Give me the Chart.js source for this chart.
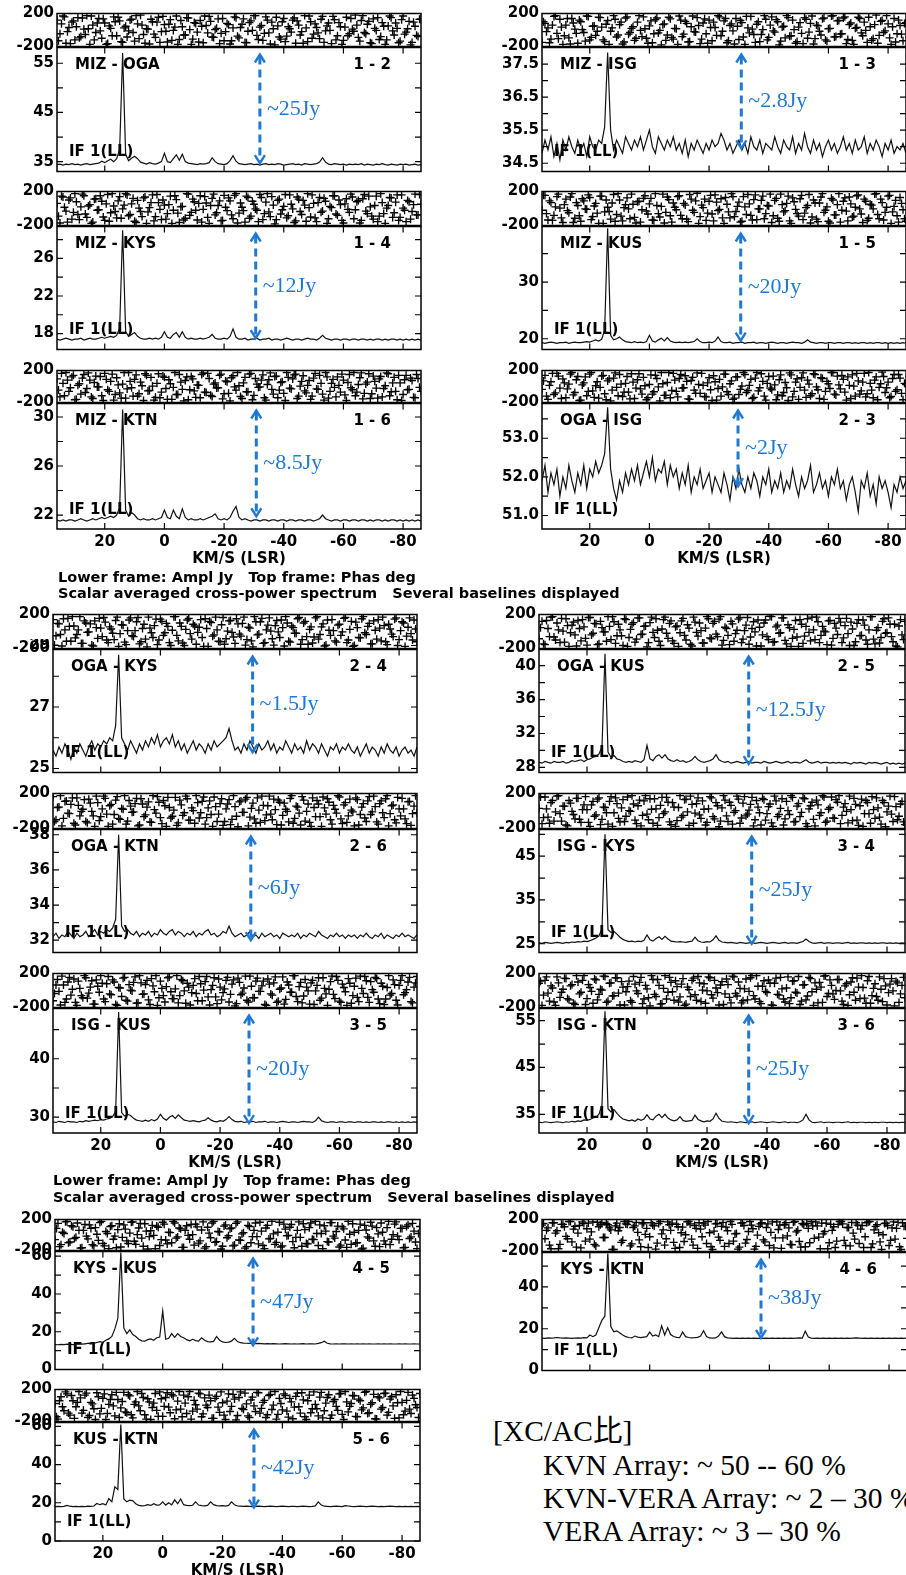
<!DOCTYPE html>
<html>
<head>
<meta charset="utf-8">
<script src="https://cdn.jsdelivr.net/npm/chart.js@4.4.1/dist/chart.umd.min.js"></script>
<style>
body{margin:0;background:#fff;width:906px;height:1575px;position:relative;overflow:hidden}
canvas{position:absolute}
.cap{position:absolute;font:bold 14.5px "DejaVu Sans";white-space:pre;color:#000;line-height:17px}
.note{position:absolute;font:29.5px "Liberation Serif","Noto Sans CJK JP";white-space:pre;color:#000;line-height:33px}
</style>
</head>
<body>
<script>
// channel velocities (km/s, LSR)
const velocity = [36,35,34,33,32,31,30,29,28,27,26,25,24,23,22,21,20,19,18,17,
16,15,14,13,12,11,10,9,8,7,6,5,4,3,2,1,0,-1,-2,-3,
-4,-5,-6,-7,-8,-9,-10,-11,-12,-13,-14,-15,-16,-17,-18,-19,-20,-21,-22,-23,
-24,-25,-26,-27,-28,-29,-30,-31,-32,-33,-34,-35,-36,-37,-38,-39,-40,-41,-42,-43,
-44,-45,-46,-47,-48,-49,-50,-51,-52,-53,-54,-55,-56,-57,-58,-59,-60,-61,-62,-63,
-64,-65,-66,-67,-68,-69,-70,-71,-72,-73,-74,-75,-76,-77,-78,-79,-80,-81,-82,-83,
-84,-85,-86];
// in-between channels used for the phase frames
const velocityHalf = [35.5,34.5,33.5,32.5,31.5,30.5,29.5,28.5,27.5,26.5,25.5,24.5,23.5,22.5,21.5,20.5,19.5,18.5,17.5,16.5,
15.5,14.5,13.5,12.5,11.5,10.5,9.5,8.5,7.5,6.5,5.5,4.5,3.5,2.5,1.5,0.5,-0.5,-1.5,-2.5,-3.5,
-4.5,-5.5,-6.5,-7.5,-8.5,-9.5,-10.5,-11.5,-12.5,-13.5,-14.5,-15.5,-16.5,-17.5,-18.5,-19.5,-20.5,-21.5,-22.5,-23.5,
-24.5,-25.5,-26.5,-27.5,-28.5,-29.5,-30.5,-31.5,-32.5,-33.5,-34.5,-35.5,-36.5,-37.5,-38.5,-39.5,-40.5,-41.5,-42.5,-43.5,
-44.5,-45.5,-46.5,-47.5,-48.5,-49.5,-50.5,-51.5,-52.5,-53.5,-54.5,-55.5,-56.5,-57.5,-58.5,-59.5,-60.5,-61.5,-62.5,-63.5,
-64.5,-65.5,-66.5,-67.5,-68.5,-69.5,-70.5,-71.5,-72.5,-73.5,-74.5,-75.5,-76.5,-77.5,-78.5,-79.5,-80.5,-81.5,-82.5,-83.5,
-84.5,-85.5];
const xTicks = [20, 0, -20, -40, -60, -80];
const xTitle = 'KM/S (LSR)';
const ifLabel = 'IF 1(LL)';

const baselineNames = ['MIZ - OGA','MIZ - ISG','MIZ - KYS','MIZ - KUS','MIZ - KTN','OGA - ISG',
  'OGA - KYS','OGA - KUS','OGA - KTN','ISG - KYS','ISG - KUS','ISG - KTN','KYS - KUS','KYS - KTN','KUS - KTN'];
const pairLabels = ['1 - 2','1 - 3','1 - 4','1 - 5','1 - 6','2 - 3','2 - 4','2 - 5','2 - 6','3 - 4','3 - 5','3 - 6','4 - 5','4 - 6','5 - 6'];

// amplitude (Jy)
const ampMizOga = [34.4,34.5,34.3,34.5,34.4,34.6,34.4,34.5,34.3,34.5,34.6,34.4,34.5,34.6,34.7,35.1,34.8,35.2,35.5,35.0,
35.6,37.5,57.1,36.5,35.2,35.7,36.1,35.6,34.9,34.7,34.5,34.8,34.6,34.5,34.7,35.0,36.7,35.0,34.8,35.6,
36.4,35.3,36.5,35.0,34.7,34.6,34.5,34.4,34.6,34.5,34.6,34.8,35.8,35.0,34.6,34.5,34.4,34.6,35.2,36.2,
35.1,34.6,34.5,34.4,34.5,34.6,34.4,34.5,34.3,34.5,34.6,34.4,34.5,34.4,34.6,34.5,34.3,34.4,34.5,34.6,
34.4,34.5,34.3,34.6,34.5,34.4,34.5,34.6,34.9,35.8,34.9,34.5,34.4,34.6,34.5,34.4,34.5,34.3,34.5,34.4,
34.5,34.4,34.6,34.3,34.5,34.4,34.3,34.5,34.4,34.6,34.4,34.3,34.5,34.4,34.3,34.5,34.4,34.5,34.3,34.4,
34.5,34.3,34.4];
const ampMizIsg = [34.8,35.2,34.9,35.3,34.7,35.1,34.6,35.2,34.9,35.3,35.0,34.8,35.2,34.9,35.1,34.7,35.3,35.0,34.9,35.2,
35.1,35.6,37.85,35.5,34.9,35.2,35.0,34.8,35.3,35.1,34.9,35.2,35.0,35.3,34.9,35.2,35.5,35.0,34.8,35.3,
35.1,34.9,35.2,35.0,35.3,34.9,35.1,34.8,35.2,34.7,35.1,34.9,35.2,35.0,34.8,35.1,34.9,35.2,35.0,35.1,
35.4,35.2,34.9,35.1,34.8,35.0,35.2,34.9,35.1,34.8,35.3,35.0,34.9,35.2,34.8,35.1,35.0,34.9,35.3,35.0,
34.8,35.2,35.0,34.9,35.3,34.8,35.1,34.9,35.4,35.0,34.8,35.2,34.9,35.1,34.7,35.0,35.2,34.9,35.1,34.8,
35.0,35.3,34.9,35.1,34.8,35.2,34.9,35.0,35.3,34.8,35.1,34.9,35.2,35.0,34.7,35.1,34.9,35.2,34.8,35.0,
34.9,35.1,34.8];
const ampMizKys = [17.4,17.3,17.4,17.5,17.4,17.3,17.4,17.4,17.5,17.3,17.4,17.5,17.4,17.4,17.5,17.6,17.5,17.6,17.7,17.6,
17.8,18.6,29.0,18.2,17.7,17.9,18.1,17.7,17.5,17.4,17.4,17.5,17.4,17.5,17.4,17.6,18.2,17.6,17.5,17.9,
18.1,17.6,18.2,17.6,17.4,17.5,17.4,17.4,17.5,17.4,17.5,17.6,17.9,17.5,17.4,17.4,17.5,17.4,17.7,18.5,
17.6,17.4,17.4,17.5,17.3,17.4,17.4,17.5,17.3,17.4,17.4,17.5,17.3,17.4,17.4,17.3,17.4,17.5,17.4,17.3,
17.4,17.4,17.3,17.4,17.5,17.4,17.4,17.3,17.5,17.8,17.5,17.4,17.3,17.4,17.4,17.3,17.4,17.4,17.3,17.4,
17.4,17.3,17.4,17.4,17.3,17.4,17.3,17.4,17.4,17.3,17.4,17.3,17.4,17.4,17.3,17.4,17.3,17.4,17.3,17.4,
17.3,17.4,17.3];
const ampMizKus = [19.3,19.2,19.3,19.4,19.3,19.2,19.3,19.3,19.4,19.2,19.3,19.4,19.3,19.3,19.4,19.5,19.4,19.6,19.8,19.6,
19.9,21.5,39.5,20.6,19.8,20.0,20.3,19.8,19.5,19.4,19.3,19.5,19.3,19.4,19.3,19.5,20.6,19.6,19.4,19.8,
20.1,19.6,20.2,19.6,19.4,19.3,19.4,19.3,19.4,19.3,19.4,19.5,20.0,19.5,19.3,19.3,19.4,19.3,19.6,20.3,
19.5,19.3,19.3,19.4,19.2,19.3,19.3,19.4,19.2,19.3,19.3,19.4,19.2,19.3,19.3,19.2,19.3,19.4,19.3,19.2,
19.3,19.3,19.2,19.3,19.4,19.3,19.3,19.2,19.4,19.8,19.4,19.3,19.2,19.3,19.3,19.2,19.3,19.3,19.2,19.3,
19.3,19.2,19.3,19.3,19.2,19.3,19.2,19.3,19.3,19.2,19.3,19.2,19.3,19.3,19.2,19.3,19.2,19.3,19.2,19.3,
19.2,19.3,19.2];
const ampMizKtn = [21.6,21.5,21.6,21.5,21.6,21.6,21.5,21.6,21.7,21.6,21.5,21.6,21.7,21.6,21.7,21.8,21.7,21.8,21.9,21.8,
22.0,22.6,30.6,22.4,21.9,22.2,22.0,21.7,21.6,21.7,21.6,21.6,21.7,21.6,21.7,21.8,22.4,21.8,21.7,22.4,
21.9,21.7,22.5,21.8,21.6,21.7,21.6,21.6,21.7,21.6,21.7,21.8,21.9,22.1,21.7,21.6,21.7,21.6,21.8,22.3,
22.7,21.8,21.6,21.7,21.6,21.5,21.6,21.6,21.5,21.6,21.6,21.5,21.6,21.6,21.5,21.6,21.6,21.5,21.6,21.6,
21.5,21.6,21.6,21.5,21.6,21.6,21.5,21.6,21.7,22.0,21.7,21.6,21.5,21.6,21.6,21.5,21.6,21.6,21.5,21.6,
21.6,21.5,21.6,21.6,21.5,21.6,21.5,21.6,21.6,21.5,21.6,21.5,21.6,21.6,21.5,21.6,21.5,21.6,21.5,21.6,
21.5,21.6,21.5];
const ampOgaIsg = [51.9,52.3,51.6,52.1,51.8,52.2,51.5,52.0,51.7,52.3,51.9,51.6,52.1,51.8,52.3,51.7,52.2,52.0,52.4,52.1,
52.3,52.6,53.8,52.2,51.7,51.4,51.9,51.6,52.1,51.8,52.2,51.9,52.3,51.8,52.1,52.4,52.0,52.5,51.9,52.2,
52.1,52.4,51.8,52.3,52.0,52.2,51.7,52.1,51.8,52.3,51.6,52.0,51.8,52.2,51.7,51.9,52.1,51.6,52.0,51.8,
51.6,52.1,51.8,51.4,52.0,51.7,52.2,51.8,51.6,52.0,51.7,52.1,51.9,51.5,52.0,51.8,52.2,51.6,51.9,51.7,
52.1,51.6,51.9,51.7,52.2,51.8,51.5,52.0,51.7,51.9,52.3,51.6,51.8,52.1,51.7,51.9,51.5,52.0,51.8,52.2,
51.7,51.9,51.4,51.8,52.0,51.6,51.1,51.9,51.7,52.1,51.5,51.8,51.3,52.0,51.7,51.9,51.6,51.2,51.8,51.6,
52.0,51.7,51.9];
const ampOgaKys = [25.6,25.4,25.7,25.5,25.8,25.6,25.3,25.7,25.5,25.8,25.6,25.4,25.7,25.9,25.6,25.8,25.7,25.9,25.8,26.0,
25.9,26.4,28.7,26.0,25.8,25.6,25.9,25.7,25.5,25.8,25.6,25.9,25.7,26.0,25.8,26.1,25.7,25.9,26.0,25.8,
26.1,25.7,25.9,25.6,25.8,25.5,25.7,25.9,25.6,25.8,25.7,25.5,25.8,25.6,25.9,25.7,25.8,25.9,26.0,26.3,
25.9,25.6,25.7,25.5,25.8,25.6,25.9,25.7,25.5,25.8,25.6,25.7,25.9,25.6,25.8,25.5,25.7,25.6,25.9,25.7,
25.5,25.8,25.6,25.7,25.5,25.9,25.6,25.8,25.7,25.5,25.8,25.6,25.4,25.7,25.6,25.8,25.5,25.7,25.6,25.8,
25.6,25.5,25.7,25.4,25.6,25.8,25.5,25.7,25.6,25.4,25.7,25.5,25.8,25.6,25.5,25.7,25.4,25.6,25.7,25.5,
25.6,25.4,25.7];
const ampOgaKus = [28.6,28.5,28.7,28.6,28.5,28.7,28.6,28.6,28.7,28.5,28.6,28.8,28.7,28.8,28.9,28.7,28.9,29.0,29.2,29.3,
29.6,30.4,41.4,29.8,29.2,29.4,29.0,28.9,28.7,28.6,28.7,28.6,28.8,28.7,28.6,28.9,30.6,29.0,28.8,29.3,
29.5,29.1,29.5,29.0,28.8,28.7,28.9,28.7,28.8,28.6,28.7,28.9,29.3,28.9,28.7,28.6,28.7,28.8,29.0,29.5,
28.9,28.7,28.6,28.7,28.5,28.6,28.7,28.6,28.5,28.6,28.7,28.5,28.6,28.6,28.5,28.7,28.6,28.5,28.6,28.7,
28.6,28.5,28.6,28.7,28.5,28.6,28.6,28.5,28.7,28.9,28.6,28.5,28.6,28.7,28.5,28.6,28.6,28.5,28.6,28.5,
28.6,28.5,28.6,28.5,28.4,28.6,28.5,28.6,28.5,28.4,28.6,28.5,28.6,28.5,28.4,28.5,28.6,28.4,28.5,28.4,
28.5,28.4,28.5];
const ampOgaKtn = [32.2,32.4,32.1,32.3,32.2,32.5,32.3,32.1,32.4,32.2,32.3,32.5,32.2,32.4,32.6,32.3,32.5,32.4,32.6,32.5,
32.7,33.2,38.0,32.8,32.5,32.6,32.4,32.3,32.5,32.2,32.4,32.3,32.5,32.2,32.4,32.3,32.6,32.4,32.3,32.5,
32.6,32.3,32.5,32.4,32.2,32.4,32.3,32.5,32.2,32.4,32.3,32.5,32.6,32.3,32.4,32.2,32.3,32.5,32.4,32.8,
32.4,32.2,32.3,32.4,32.2,32.3,32.5,32.2,32.3,32.1,32.4,32.2,32.3,32.4,32.2,32.3,32.1,32.4,32.3,32.2,
32.3,32.2,32.4,32.1,32.3,32.2,32.4,32.3,32.2,32.5,32.3,32.2,32.1,32.3,32.2,32.4,32.2,32.3,32.1,32.3,
32.2,32.3,32.1,32.3,32.2,32.4,32.2,32.1,32.3,32.2,32.4,32.1,32.3,32.2,32.1,32.3,32.2,32.4,32.2,32.3,
32.2,32.1,32.3];
const ampIsgKys = [25.2,25.1,25.3,25.2,25.1,25.2,25.3,25.2,25.1,25.3,25.2,25.4,25.3,25.5,25.4,25.6,25.5,25.7,26.0,26.3,
26.8,28.5,50.0,28.2,27.6,27.8,27.2,26.5,26.0,25.7,25.5,25.6,25.4,25.6,25.5,25.8,27.0,25.9,25.6,26.2,
26.6,26.0,26.7,26.1,25.6,25.5,25.4,25.5,25.4,25.3,25.5,25.6,26.5,25.7,25.4,25.3,25.5,25.4,25.9,26.8,
25.8,25.4,25.3,25.2,25.3,25.2,25.1,25.3,25.2,25.1,25.2,25.3,25.1,25.2,25.3,25.2,25.1,25.2,25.3,25.2,
25.1,25.2,25.3,25.1,25.2,25.2,25.1,25.3,25.5,26.1,25.5,25.2,25.1,25.2,25.3,25.1,25.2,25.2,25.1,25.2,
25.2,25.1,25.2,25.3,25.1,25.2,25.1,25.2,25.2,25.1,25.2,25.1,25.2,25.1,25.2,25.2,25.1,25.2,25.1,25.2,
25.1,25.2,25.1];
const ampIsgKus = [29.2,29.1,29.3,29.2,29.1,29.3,29.2,29.2,29.1,29.3,29.2,29.4,29.3,29.4,29.5,29.4,29.6,29.5,29.7,29.8,
30.1,31.0,48.0,30.8,30.2,30.5,30.3,29.8,29.5,29.4,29.3,29.5,29.3,29.6,29.4,29.7,30.5,29.8,29.5,30.0,
30.3,29.8,30.4,29.9,29.5,29.4,29.3,29.4,29.3,29.2,29.4,29.5,29.9,29.5,29.3,29.2,29.4,29.3,29.6,30.1,
29.6,29.3,29.2,29.3,29.1,29.2,29.2,29.3,29.1,29.2,29.2,29.3,29.1,29.2,29.2,29.1,29.2,29.3,29.2,29.1,
29.2,29.2,29.1,29.2,29.3,29.2,29.2,29.1,29.4,30.0,29.4,29.2,29.1,29.2,29.2,29.1,29.2,29.2,29.1,29.2,
29.2,29.1,29.2,29.2,29.1,29.2,29.1,29.2,29.2,29.1,29.2,29.1,29.2,29.2,29.1,29.2,29.1,29.2,29.1,29.2,
29.1,29.2,29.1];
const ampIsgKtn = [33.3,33.2,33.4,33.3,33.2,33.3,33.4,33.3,33.2,33.4,33.3,33.5,33.4,33.6,33.5,33.8,33.7,33.9,34.2,34.4,
35.0,37.0,57.0,36.2,35.5,36.0,35.2,34.5,34.0,33.8,33.6,33.8,33.5,34.0,33.7,34.0,34.9,34.0,33.8,34.6,
35.0,34.3,35.0,34.2,33.8,33.6,33.8,34.5,33.7,33.5,33.6,33.7,34.8,33.9,33.6,33.4,33.6,33.5,34.0,35.2,
34.1,33.5,33.4,33.3,33.4,33.3,33.2,33.4,33.3,33.2,33.3,33.4,33.2,33.3,33.4,33.3,33.2,33.3,33.4,33.3,
33.2,33.3,33.4,33.2,33.3,33.3,33.2,33.4,33.8,35.0,33.8,33.3,33.2,33.3,33.4,33.2,33.3,33.3,33.2,33.3,
33.3,33.2,33.3,33.4,33.2,33.3,33.2,33.3,33.3,33.2,33.3,33.2,33.3,33.2,33.3,33.3,33.2,33.3,33.2,33.3,
33.2,33.3,33.2];
const ampKysKus = [13.2,13.1,13.3,13.2,13.4,13.3,13.2,13.4,13.5,13.4,13.6,13.8,14.0,13.8,14.3,14.8,14.4,15.5,16.2,17.5,
21.5,27.0,62.0,22.0,19.0,21.0,18.5,17.5,16.0,15.2,15.0,15.8,16.2,15.5,16.8,17.2,31.0,16.0,16.5,19.0,
17.0,19.0,17.5,16.8,15.8,15.2,16.0,15.3,15.0,16.8,15.5,14.8,14.6,14.9,17.5,15.5,14.6,14.3,14.5,15.0,
16.5,14.8,14.2,14.0,13.9,13.8,13.9,13.7,13.8,13.7,13.6,13.7,13.6,13.7,13.6,13.5,13.6,13.7,13.6,13.5,
13.6,13.5,13.6,13.7,13.5,13.6,13.6,13.5,13.8,14.2,15.0,13.9,13.6,13.5,13.6,13.5,13.6,13.6,13.5,13.6,
13.5,13.6,13.5,13.6,13.5,13.6,13.5,13.5,13.6,13.5,13.6,13.5,13.6,13.5,13.5,13.6,13.5,13.6,13.5,13.5,
13.6,13.5,13.5];
const ampKysKtn = [15.5,15.4,15.6,15.5,15.6,15.8,15.6,15.5,15.6,15.5,15.4,15.5,15.6,15.5,15.7,15.6,17.0,16.2,17.0,20.5,
24.0,26.0,56.0,21.0,18.5,19.0,18.0,17.0,16.2,15.8,15.6,16.5,16.0,15.7,16.0,16.2,18.4,16.5,17.0,16.2,
21.4,17.0,20.5,17.2,16.3,15.9,15.7,18.5,16.2,15.8,15.6,15.7,15.9,16.5,19.0,16.3,15.6,15.5,15.6,16.5,
18.5,16.2,15.6,15.5,15.4,15.5,15.4,15.5,15.4,15.5,15.4,15.5,15.4,15.5,15.4,15.5,15.4,15.5,15.4,15.5,
15.4,15.5,15.4,15.5,15.4,15.5,15.6,15.5,18.8,16.0,15.5,15.4,15.5,15.4,15.5,15.4,15.5,15.4,15.5,15.4,
15.5,15.4,15.5,15.4,15.5,15.6,15.5,15.4,15.5,15.4,15.5,15.4,15.5,15.4,15.5,15.4,15.5,15.4,15.5,15.4,
15.5,15.4,15.5];
const ampKusKtn = [18.0,18.1,18.0,18.1,18.6,18.2,18.0,18.1,18.0,18.1,18.0,18.2,18.1,18.3,19.6,19.0,19.5,18.8,22.2,20.5,
28.3,27.0,61.0,22.0,20.5,21.4,21.0,19.5,18.6,18.4,18.5,19.0,18.6,19.5,18.8,18.9,20.5,18.8,20.0,18.9,
21.5,19.5,22.0,19.0,18.6,18.5,18.7,20.5,18.8,18.5,18.4,18.6,20.5,19.0,18.5,18.4,18.5,18.3,18.6,20.5,
19.0,18.3,18.2,18.1,18.2,18.1,18.0,18.1,18.2,18.1,18.0,18.1,18.2,18.1,18.0,18.1,18.2,18.1,18.0,18.1,
18.1,18.0,18.1,18.2,18.1,18.0,18.1,18.4,20.5,18.8,18.2,18.1,18.0,18.1,18.2,18.1,18.0,18.5,18.3,18.1,
18.0,18.1,18.2,18.1,18.0,18.1,18.2,18.1,18.0,18.1,18.0,18.1,18.2,18.1,18.0,18.1,18.0,18.1,18.0,18.1,
18.0,18.1,18.0];

// phase (deg) on the whole channels
const phMizOga = [120,-45,170,-160,30,95,-120,150,-80,10,175,-175,60,-30,140,-100,85,-165,20,160,
-70,110,-150,45,-10,130,-135,75,180,-55,15,-170,100,-90,155,-20,65,-145,125,-5,
170,-115,40,-60,145,-175,90,-25,115,-155,55,165,-85,5,135,-40,-130,80,-170,25,
150,-95,70,-150,-15,110,175,-65,35,-125,160,-35,95,-180,50,-110,140,-75,15,120,
-160,60,-20,175,-140,100,-50,30,-105,165,-10,85,-165,125,-70,40,-125,155,-45,10,
180,-90,115,-30,70,-155,135,-5,-115,90,-175,50,150,-60,20,-135,170,-25,105,-150,
45,-80,130];
const phMizIsg = [-150,80,25,-110,165,-40,130,-175,60,-95,140,10,-160,100,-30,170,-120,45,-65,155,
35,-140,115,-15,175,-85,65,-170,145,-50,20,-125,95,-5,160,-100,50,-155,125,-35,
-180,75,-60,135,-110,15,170,-80,105,-145,40,-20,150,-165,85,-45,120,-130,30,175,
-70,110,-155,55,-10,140,-115,90,-175,25,165,-55,70,-140,5,130,-90,160,-25,100,
-135,45,175,-75,120,-160,35,-40,150,-100,80,-170,60,-15,135,-120,15,170,-85,110,
-50,145,-165,65,-125,20,155,-35,95,-150,40,-105,180,-65,115,-10,75,-175,140,-45,
55,-130,90];
const phMizKys = [60,-170,135,-30,100,-125,175,-70,20,150,-105,45,-160,115,-15,85,-140,165,-50,30,
-110,140,-5,175,-85,55,-150,95,-35,125,-175,10,160,-95,70,-130,40,-60,145,-20,
105,-165,25,-115,170,-45,80,-135,150,-10,65,-175,120,-75,35,-145,155,-25,90,-120,
175,-55,15,-160,130,-90,50,-20,165,-130,75,-40,140,-180,95,-65,25,-110,160,-5,
-145,110,-70,40,175,-100,60,-155,130,-30,85,-120,10,150,-80,45,-170,115,-45,135,
-15,95,-140,165,-60,20,-125,145,-90,70,-175,35,125,-50,160,-105,5,-155,80,-35,
170,-75,50];
const phMizKus = [-20,155,-135,70,-80,140,5,-165,110,-50,175,-115,35,-150,90,-10,130,-95,60,-175,
145,-40,15,-125,165,-70,100,-145,45,-5,170,-105,80,-160,120,-30,55,-135,175,-60,
25,-170,135,-85,65,-15,150,-120,40,-155,110,-45,180,-95,10,-140,85,-65,160,-25,
115,-175,50,-110,140,-35,75,-150,20,165,-80,105,-130,-5,145,-60,30,-165,95,-115,
170,-40,60,-145,125,-10,-90,155,-55,35,-170,100,-125,65,175,-20,-150,120,-75,45,
-160,85,-30,135,-100,15,160,-65,110,-140,50,-5,175,-120,70,-45,145,-175,25,-85,
130,-15,-150];
const phMizKtn = [95,-130,40,175,-60,120,-165,15,-95,150,-25,80,-150,130,-5,-115,165,-40,65,-170,
110,-80,30,-145,175,-15,90,-120,55,-175,140,-50,5,-135,160,-70,115,-160,35,-10,
-100,150,-35,75,-165,125,-55,20,-140,170,-75,100,-125,45,-15,155,-90,60,-180,135,
-45,10,-150,115,-65,165,-110,30,-5,145,-170,85,-35,125,-140,50,-85,175,-20,95,
155,-120,65,-55,15,-160,105,-30,140,-95,175,-145,40,-10,120,-70,80,-175,150,-40,
-115,25,170,-85,55,-150,130,-20,95,-130,10,160,-65,115,-165,45,-100,140,-35,75,
-140,100,-60];
const phOgaIsg = [-35,140,-160,60,-100,165,-20,95,-140,30,175,-75,125,-170,45,-115,155,-55,10,-145,
130,-90,70,-180,105,-10,150,-125,40,-70,160,-150,85,-30,115,-165,25,-95,140,-5,
175,-110,50,-140,165,-60,100,-20,135,-155,75,-45,170,-85,15,-130,110,-175,60,-25,
-120,155,-65,35,-160,120,-100,5,150,-50,90,-135,175,-15,65,-170,125,-40,20,-105,
145,-75,-15,170,-130,55,-160,110,-45,80,-115,160,-5,-150,100,-60,35,175,-95,130,
-30,90,-170,15,145,-120,70,-55,165,-90,40,-140,120,-10,180,-75,55,-125,150,-40,
105,-165,25];
const phOgaKys = [140,-50,90,-170,20,155,-115,65,-35,175,-140,100,-5,-160,125,-80,40,165,-100,55,
-20,130,-175,80,-125,10,160,-60,115,-145,35,-90,170,-15,70,-155,145,-45,95,-130,
15,175,-110,60,-165,135,-25,85,-150,50,-70,150,-175,105,-40,20,-120,165,-85,125,
-10,-140,90,-55,170,-95,40,-180,115,-30,155,-130,75,5,-160,130,-70,45,175,-115,
65,-20,150,-150,100,-60,25,-135,160,-90,55,-170,135,-45,10,-125,85,-5,165,-100,
120,-165,45,-75,175,-35,95,-145,15,140,-110,70,-155,30,-60,160,-95,115,-175,50,
-25,135,-120];
const phOgaKus = [-85,120,-155,35,170,-65,100,-130,5,150,-175,75,-40,130,-110,55,-160,165,-20,90,
-145,45,-5,175,-95,115,-50,20,-165,140,-70,85,-125,160,-35,60,-180,105,-10,150,
-115,30,170,-80,125,-140,65,-15,155,-100,40,-170,110,-55,10,-135,175,-75,95,-30,
145,-160,50,-45,120,-115,15,165,-90,75,-150,35,-5,135,-170,100,-60,180,-125,55,
-20,160,-105,80,-175,25,-65,140,-140,60,-10,170,-95,115,-45,5,-155,130,-80,40,
155,-130,70,-25,110,-165,95,-50,135,-100,20,175,-145,45,-70,150,-15,85,-120,-170,
65,-40,120];
const phOgaKtn = [165,-100,45,-170,110,-25,75,-140,150,-55,20,-120,135,-5,-175,95,-65,170,-35,60,
-150,125,-85,30,175,-115,55,-10,145,-160,80,-45,105,-130,15,165,-75,120,-175,40,
-60,155,-135,70,-20,140,-105,5,175,-80,110,-150,35,-40,160,-120,85,-165,25,130,
-95,50,-180,115,-15,155,-70,90,-140,10,170,-110,60,-35,135,-155,100,-50,20,-125,
175,-85,45,-160,125,-5,-130,150,-65,80,-175,35,140,-100,65,-25,160,-145,95,-55,
10,-170,130,-40,85,-120,165,-10,50,-150,115,-75,175,-30,70,-135,25,145,-90,105,
-165,55,-20];
const phIsgKys = [30,-145,160,-70,95,-115,170,-30,55,-160,120,-5,-90,145,-130,70,15,-175,110,-45,
150,-95,40,-150,165,-20,85,-125,130,-60,5,175,-105,60,-170,115,-35,140,-140,25,
-75,155,-10,100,-155,45,-110,175,-50,135,-165,75,-25,150,-85,20,-130,165,-65,95,
-180,35,125,-120,65,-15,170,-140,90,-55,10,155,-100,45,-160,130,-30,80,-175,115,
-40,140,-90,5,175,-125,55,-65,150,-145,25,100,-170,70,-20,160,-115,40,-80,130,
175,-50,85,-135,15,145,-105,60,-175,120,-30,165,-85,35,-150,95,-10,170,-120,50,
-60,110,-155];
const phIsgKus = [-120,65,-10,170,-140,100,-55,135,-175,25,-85,150,-30,115,-160,50,175,-100,80,-40,
125,-165,35,-70,155,-125,5,95,-150,175,-45,70,-110,140,-15,-175,110,-60,45,160,
-95,20,-145,130,-5,85,-170,60,-35,165,-120,105,-75,10,150,-155,40,-25,120,-135,
75,-180,145,-50,30,-115,170,-85,110,-10,55,-165,135,-40,90,-140,15,160,-105,65,
-20,175,-130,95,-65,40,-160,120,-5,150,-90,25,-175,105,-45,165,-125,75,-15,140,
-150,50,-80,170,-35,115,-140,10,155,-100,85,-165,35,-55,125,-115,60,175,-25,100,
-130,40,165];
const phIsgKtn = [85,-175,120,-30,55,-135,160,-80,15,140,-110,70,-165,100,-20,175,-95,35,-150,125,
-45,5,165,-125,90,-60,150,-170,40,-15,110,-140,75,-35,155,-100,20,-180,130,-70,
60,-155,175,-20,95,-115,45,-75,140,-160,10,120,-50,165,-130,80,-5,150,-90,30,
-170,105,-40,70,-145,160,-65,25,-120,135,-10,175,-100,50,-155,115,-25,85,-175,145,
-55,20,-135,160,-85,115,-30,-165,65,-110,155,-15,90,-145,40,170,-70,125,-40,0,
130,-125,55,-175,100,-20,145,-95,35,-150,165,-60,80,-115,15,140,-170,75,-5,110,
-140,60,-85];
const phKysKus = [-60,150,-125,20,175,-90,105,-30,60,-165,135,-50,85,-140,10,160,-110,45,-175,120,
-15,70,-155,130,-75,25,170,-120,90,-40,145,-180,55,-5,115,-135,165,-65,35,-100,
155,-25,80,-160,120,-55,5,140,-105,65,-170,100,-35,175,-85,40,-145,130,-10,90,
-130,170,-70,30,-150,110,-20,155,-115,50,-175,125,-45,15,-95,165,-140,75,-5,135,
-165,60,-30,145,-110,95,-55,175,-135,20,120,-85,160,-15,45,-155,105,-65,175,-120,
35,-100,140,-170,65,-40,115,-145,15,155,-75,95,-125,5,170,-60,85,-160,130,-25,
50,-175,110];
const phKysKtn = [130,-40,95,-165,160,60,-110,140,-10,175,-80,115,30,-155,150,85,-45,170,-130,110,
165,-25,135,70,-175,155,100,-60,145,175,-105,120,40,-140,160,90,-15,130,-170,150,
20,-120,170,65,-85,140,-150,105,10,175,-45,125,-160,80,155,-100,35,-175,145,-20,
115,-135,60,175,-70,25,-145,160,-95,50,130,-170,5,145,-55,100,-125,170,-30,75,
-160,135,-5,-110,165,45,-75,150,-140,90,175,-35,120,-165,20,155,-90,65,-150,140,
175,-60,100,-130,30,160,-100,125,-15,170,-150,70,135,-80,10,155,-125,95,-45,165,
-175,115,-35];
const phKusKtn = [25,-170,110,-65,145,-120,60,-15,175,-95,130,-150,40,-40,160,-105,90,-175,15,135,
-130,75,-30,165,-90,120,-155,45,-5,150,-115,85,-175,30,-60,170,-135,100,-20,140,
-165,55,-45,130,-100,175,-70,10,155,-140,95,-25,60,-160,115,-85,35,-175,145,-10,
80,-125,170,-50,20,-150,105,-75,160,-35,65,-115,140,5,-170,90,-55,125,-145,45,
-20,155,-95,70,-175,130,-40,15,-130,165,-65,100,-160,50,-10,145,-110,175,-80,25,
120,-140,60,-30,175,-90,35,-165,110,-45,150,-120,80,-5,135,-155,40,-70,165,-100,
90,-25,150];

// phase (deg) on the in-between channels
const phMizOgaB = [-130,75,160,-20,-165,110,40,-95,145,-55,15,170,-120,85,-10,135,-175,50,-70,100,
155,-140,25,-85,120,-30,175,-105,60,-160,10,130,-50,95,-150,165,-15,70,-125,35,
-175,115,-60,150,5,-110,80,-145,45,170,-35,105,-90,20,-165,140,-20,65,-130,160,
-75,30,135,-155,90,-5,175,-115,55,-40,120,-170,15,155,-85,100,-140,40,-25,145,
110,-60,-160,25,170,-100,75,-35,130,-150,50,-5,165,-120,90,-175,35,-70,140,-15,
60,-135,175,-45,105,-165,20,150,-80,45,-120,170,-10,85,-155,125,-50,15,-180,95,
-65,130];
const phMizIsgB = [100,-20,-155,60,175,-105,35,-70,140,-170,85,-40,120,5,-135,165,-90,50,-15,150,
-120,70,-175,25,130,-60,95,-145,160,-30,40,-100,175,-80,15,-160,110,-45,145,-5,
65,-125,155,-90,20,-175,120,-50,80,-140,170,-25,55,-110,135,-160,30,95,-65,160,
-15,140,-130,75,-170,45,115,-85,165,-35,10,-150,100,-55,175,-120,60,-10,125,-180,
35,-95,150,-70,5,-140,90,-165,130,-25,170,-105,50,-60,145,-135,20,175,-80,115,
-45,160,-115,85,-175,30,140,-70,-5,155,-125,65,-160,105,-30,175,-95,40,-145,120,
-50,80];
const phMizKysB = [-90,145,15,-160,125,-45,80,-130,170,-65,30,-175,110,-20,150,-100,55,-150,175,-35,
90,-115,40,160,-70,120,-165,5,-95,135,-40,70,-145,165,-10,100,-125,45,-175,150,
-55,20,-135,175,-80,110,-20,60,-160,140,-105,35,170,-50,90,-140,15,125,-75,155,
-170,65,-25,145,-115,85,-5,-155,130,-60,175,-95,40,-130,110,-15,165,-85,50,-165,
135,-35,95,-150,10,160,-110,70,-45,120,-175,25,150,-65,100,-140,55,-10,170,-120,
80,-170,115,-30,145,-90,35,-155,175,-60,5,130,-105,75,-140,160,-20,95,-125,45,
-75,165];
const phMizKusB = [155,-60,90,-140,20,170,-110,45,-25,135,-165,70,-85,115,-5,160,-130,30,-55,145,
-175,100,-35,65,-150,175,-90,10,125,-120,50,-170,85,-15,150,-65,120,-140,35,-100,
170,-45,105,-160,15,140,-80,60,-125,165,-20,90,-175,40,110,-55,155,-145,75,-10,
-110,130,-40,175,-95,25,-160,140,-70,55,-135,160,-5,95,-120,35,170,-85,120,-150,
45,-25,145,-175,80,-60,115,-130,10,165,-100,65,-155,135,-45,20,-170,100,-75,175,
-20,125,-145,55,-90,150,-5,-165,85,-115,40,170,-70,110,-135,15,155,-40,95,-160,
60,-120];
const phMizKtnB = [-45,165,-115,80,-15,140,-160,35,105,-75,170,-130,50,-5,125,-175,90,-60,155,-100,
20,-145,175,-30,65,-120,145,-90,10,160,-55,115,-170,40,-140,130,-25,85,-160,175,
-100,55,-180,120,-40,95,-135,15,150,-70,165,-110,30,-20,140,-155,70,-85,110,-5,
175,-125,45,-65,155,-165,100,-10,80,-140,25,170,-95,130,-45,60,-175,115,-30,145,
-150,5,135,-80,75,-120,165,-35,40,-170,120,-60,90,-130,15,155,-105,50,-15,175,
-70,110,-155,30,160,-90,65,-145,125,-25,170,-115,45,-60,140,-175,85,-40,105,-135,
150,-10];
const phOgaIsgB = [70,-120,15,165,-80,130,-150,45,-30,155,-105,85,-175,20,120,-60,175,-135,60,-10,
140,-165,95,-45,170,-115,30,-70,125,-155,55,-20,160,-95,10,-140,145,-65,100,-180,
35,-110,175,-50,80,-130,150,-15,65,-160,115,-85,25,165,-125,45,-40,135,-170,90,
-5,155,-100,70,-145,120,-35,175,-75,15,-150,105,-55,160,-120,40,-20,130,-165,85,
-115,50,-175,145,-60,95,-10,170,-135,30,-90,150,-40,110,-160,65,-25,175,-105,20,
140,-70,120,-150,5,165,-95,55,-130,175,-45,80,-165,35,125,-15,-140,100,-60,150,
-85,40];
const phOgaKysB = [-160,95,-35,150,-115,60,175,-75,20,-140,125,-10,90,-170,45,155,-60,110,-130,30,
-95,170,-25,75,-155,135,-50,10,165,-120,85,-180,40,-70,145,-100,120,-15,60,-165,
175,-45,100,-135,25,155,-90,65,-10,140,-175,35,120,-55,170,-115,80,-150,5,130,
-65,150,-30,95,-160,50,-110,175,-40,115,-140,20,160,-85,70,-5,135,-170,100,-125,
45,-20,165,-95,120,-150,55,-65,175,-35,90,-160,15,140,-110,75,-45,155,-130,25,
-175,110,-70,150,-15,60,-145,125,-90,40,170,-120,85,-30,145,-165,10,100,-55,160,
-100,30];
const phOgaKusB = [45,-145,130,-60,175,-100,20,155,-125,70,-15,110,-170,35,140,-80,165,-40,95,-155,
120,-5,-115,60,175,-140,85,-50,150,-175,25,105,-90,160,-30,65,-130,170,-70,15,
-165,140,-20,95,-110,55,-175,125,-45,80,-150,170,-10,100,-135,40,150,-85,120,-60,
175,-105,35,-155,90,-25,145,-130,10,165,-65,115,-170,50,-40,135,-95,175,-120,75,
-15,160,-145,45,-80,130,-175,85,-55,150,-110,20,170,-130,60,-5,125,-160,95,-35,
110,-75,155,-165,30,-120,140,-45,75,-150,175,-90,15,-135,120,-20,160,-60,85,-180,
140,-95];
const phOgaKtnB = [-120,40,175,-85,115,-30,150,-160,65,-5,130,-135,90,-55,170,-110,25,145,-175,75,
-40,165,-95,20,-150,120,-15,85,-170,140,-65,45,-125,175,-25,100,-145,60,155,-80,
10,-165,125,-50,170,-105,35,-140,95,-20,160,-75,115,-175,50,-35,140,-120,80,-155,
175,-60,105,-15,135,-170,30,-90,150,-130,65,-45,170,-100,15,125,-160,90,-5,145,
-140,55,-25,165,-115,80,-175,40,120,-65,160,-35,100,-150,20,175,-90,70,-130,135,
-10,150,-160,45,-80,115,-40,170,-125,85,-20,140,-170,60,-100,155,-55,25,-145,110,
-30,175];
const phIsgKysB = [160,-75,25,-140,120,-10,175,-115,55,-170,90,-40,145,-95,15,165,-130,70,-60,135,
-155,45,-20,110,-175,150,-85,35,-120,160,-5,80,-145,125,-50,175,-100,20,140,-165,
65,-30,155,-125,95,-175,40,-70,130,-10,170,-140,85,-45,115,-160,25,150,-90,60,
-115,175,-55,100,-150,5,135,-80,165,-35,75,-170,120,-20,145,-105,50,-135,170,-65,
30,-160,110,-40,155,-120,85,-15,140,-175,60,-95,125,-50,175,-130,20,160,-85,100,
-145,45,-5,170,-110,75,-165,135,-30,95,-140,15,150,-70,120,-180,55,-35,165,-100,
80,-125];
const phIsgKusB = [-35,130,-170,65,-100,155,15,-140,110,-60,175,-90,40,-160,125,-20,85,-130,165,-50,
100,-175,30,145,-115,70,-5,160,-145,90,-40,120,-165,55,175,-85,25,-135,150,-15,
-95,175,-60,115,-150,40,-25,140,-120,80,5,165,-170,60,-75,135,-110,20,155,-45,
125,-155,95,-30,170,-135,50,-85,145,-10,110,-175,75,-55,160,-125,30,-160,100,-20,
175,-70,45,-145,130,-5,90,-165,60,-115,150,-40,15,170,-95,120,-140,35,-175,85,
-60,145,-130,25,165,-80,105,-20,140,-155,50,-100,175,-35,70,-170,120,-50,10,155,
-145,90];
const phIsgKtnB = [110,-55,160,-125,30,-175,90,-20,145,-95,55,-150,175,-40,120,-165,70,-10,135,-110,
15,170,-140,85,-65,150,-30,105,-170,45,-120,165,-5,95,-155,60,-85,175,-45,130,
-160,25,-100,155,-15,115,-135,75,-175,40,-70,145,-115,90,5,-150,160,-50,120,-25,
65,-165,135,-80,170,-35,100,-145,20,-110,150,-60,175,-130,50,-10,125,-170,85,-45,
155,-100,30,-155,110,-20,165,-125,70,-65,140,-175,15,95,-140,175,-35,60,-105,130,
-5,-165,80,-50,150,-115,40,175,-90,115,-150,25,-70,160,-130,55,-25,140,-180,90,
-40,155];
const phKysKusB = [85,-150,35,170,-100,120,-45,155,-170,60,-15,130,-125,95,-70,175,-140,20,110,-55,
-165,145,-30,75,-110,165,-80,5,150,-145,50,-20,125,-175,100,-60,140,-115,30,175,
-40,90,-160,60,-5,135,-130,105,-75,170,-150,25,155,-95,45,-180,115,-35,80,-140,
150,-65,15,-170,125,-100,60,-20,165,-135,90,-50,175,-120,35,-155,140,-10,100,-85,
-30,170,-145,70,-115,155,-60,20,130,-175,50,-90,160,-40,115,-130,80,-160,10,145,
-105,60,-180,125,-25,165,-75,95,-150,35,-120,175,-55,140,-15,85,-165,110,-45,150,
-90,20];
const phKysKtnB = [150,65,-120,160,30,-165,140,110,-40,175,80,-145,125,170,-70,155,45,-110,165,135,
-25,150,95,-175,120,60,-85,175,140,-130,100,165,-55,145,15,-150,160,120,-95,175,
70,-40,135,155,-160,110,35,-75,170,145,-120,90,160,-15,130,175,-140,55,150,-60,
165,105,-100,140,20,-170,155,125,-50,175,85,-135,115,160,-80,145,40,-155,170,130,
-30,160,95,-115,175,65,-145,135,150,-90,120,170,-20,155,50,-165,140,110,-70,175,
145,-125,100,165,-45,130,80,-150,160,175,-105,115,35,-175,150,125,-60,170,90,-140,
160,115];
const phKusKtnB = [-140,60,-15,170,-95,125,-160,40,95,-60,155,-125,20,-175,110,-35,145,-100,75,-5,
165,-150,50,-80,135,-115,15,175,-65,100,-170,45,-25,150,-135,85,-10,160,-90,120,
-55,175,-140,30,110,-170,65,-45,145,-105,5,130,-160,90,-20,170,-120,55,-75,140,
-180,100,-35,155,-130,70,-5,165,-95,40,-150,125,-50,175,-110,25,145,-70,90,-165,
115,-15,160,-140,60,-90,170,-40,105,-155,30,135,-120,75,-60,150,-175,45,-10,125,
-135,80,-55,165,-100,15,140,-170,95,-25,155,-85,110,-160,35,175,-115,65,-45,130,
10,-150];

const ampSeries = [ampMizOga, ampMizIsg, ampMizKys, ampMizKus, ampMizKtn, ampOgaIsg, ampOgaKys, ampOgaKus,
  ampOgaKtn, ampIsgKys, ampIsgKus, ampIsgKtn, ampKysKus, ampKysKtn, ampKusKtn];
const phaseSeries = [phMizOga, phMizIsg, phMizKys, phMizKus, phMizKtn, phOgaIsg, phOgaKys, phOgaKus,
  phOgaKtn, phIsgKys, phIsgKus, phIsgKtn, phKysKus, phKysKtn, phKusKtn];
const phaseSeriesB = [phMizOgaB, phMizIsgB, phMizKysB, phMizKusB, phMizKtnB, phOgaIsgB, phOgaKysB, phOgaKusB,
  phOgaKtnB, phIsgKysB, phIsgKusB, phIsgKtnB, phKysKusB, phKysKtnB, phKusKtnB];

// amplitude axis ranges and ticks
const ampMin = [33, 34.25, 16.3, 18.1, 20.86, 50.65, 24.87, 27.4, 31.3, 23, 27.3, 31, 0, 0, 0];
const ampMax = [58.2, 38.0, 29.4, 39.8, 31.1, 53.9, 28.87, 41.9, 38.3, 51.1, 48.6, 57.6, 62.5, 56.5, 62];
const ampTicks = [[35,45,55],[34.5,35.5,36.5,37.5],[18,22,26],[20,30],[22,26,30],[51,52,53],
  [25,27,29],[28,32,36,40],[32,34,36,38],[25,35,45],[30,40],[35,45,55],[0,20,40,60],[0,20,40],[0,20,40,60]];
const ampMinor = [[40,50],[35,36,37],[20,24,28],[25,35],[24,28],[51.5,52.5,53.5],
  [26,28],[30,34,38],[33,35,37],[30,40,50],[35,45],[40,50],[10,30,50],[10,30,50],[10,30,50]];
const ampDecimals = [0,1,0,0,0,1,0,0,0,0,0,0,0,0,0];
const phaseTicks = [-200, 200];

// annotations: velocity of arrow, amplitude at its foot, text
const arrowVel = [-32.0,-30.8,-30.6,-30.6,-30.8,-29.7,-30.9,-33.9,-30.3,-34.9,-29.7,-33.9,-30.2,-37.2,-30.5];
const arrowBase = [34.7,34.95,17.5,19.65,21.9,51.76,25.53,28.4,32.0,25.0,29.0,33.1,12.8,15.6,17.5];
const arrowText = ['~25Jy','~2.8Jy','~12Jy','~20Jy','~8.5Jy','~2Jy','~1.5Jy','~12.5Jy','~6Jy','~25Jy','~20Jy','~25Jy','~47Jy','~38Jy','~42Jy'];

const captionLine1 = 'Lower frame: Ampl Jy   Top frame: Phas deg';
const captionLine2 = 'Scalar averaged cross-power spectrum   Several baselines displayed';
const noteTitle = '[XC/AC比]';
const noteLines = ['KVN Array: ~ 50 -- 60 %', 'KVN-VERA Array: ~ 2 – 30 %', 'VERA Array: ~ 3 – 30 %'];

// page layout (pixels)
const frames = [
  {x:57, w:364, top:13, mid:47, bottom:172},
  {x:542, w:364, top:13, mid:47, bottom:172},
  {x:57, w:364, top:191, mid:226, bottom:350},
  {x:542, w:364, top:191, mid:226, bottom:350},
  {x:57, w:364, top:370, mid:403, bottom:529, axis:true},
  {x:542, w:364, top:370, mid:403, bottom:529, axis:true},
  {x:53, w:364, top:614, mid:649, bottom:773},
  {x:539, w:366, top:614, mid:649, bottom:773},
  {x:53, w:364, top:793, mid:829, bottom:953},
  {x:539, w:366, top:793, mid:829, bottom:953},
  {x:53, w:364, top:973, mid:1008, bottom:1133, axis:true},
  {x:539, w:366, top:973, mid:1008, bottom:1133, axis:true},
  {x:55, w:365, top:1219, mid:1251, bottom:1370},
  {x:542, w:365, top:1219, mid:1252, bottom:1371},
  {x:55, w:365, top:1389, mid:1422, bottom:1541, axis:true}
];
const captions = [
  {x:58, y:569, t:captionLine1}, {x:58, y:585, t:captionLine2},
  {x:53, y:1172, t:captionLine1}, {x:53, y:1189, t:captionLine2}
];

const BLUE = '#1f78d2';
const YW = 50, PAD = 10, RPAD = 10, XH = 40;
const tickFont = {family:'DejaVu Sans', weight:'bold', size:15, lineHeight:1};
const labelFont = 'bold 15px "DejaVu Sans"';

const framePlugin = {
  id: 'frame',
  beforeDatasetsDraw(chart, args, o) {
    if (!o.name) return;
    const {ctx, chartArea: a} = chart;
    ctx.save();
    ctx.fillStyle = '#000';
    ctx.font = labelFont;
    ctx.textBaseline = 'middle';
    ctx.textAlign = 'left';
    ctx.fillText(o.name, a.left + 18, a.top + 18);
    ctx.fillText(ifLabel, a.left + 12, a.bottom - 19);
    ctx.textAlign = 'right';
    ctx.fillText(o.pair, a.right - 30, a.top + 18);
    ctx.restore();
  },
  afterDatasetsDraw(chart, args, o) {
    const {ctx, chartArea: a, scales} = chart;
    ctx.save();
    ctx.strokeStyle = '#000';
    ctx.lineWidth = 1.5;
    ctx.strokeRect(a.left, a.top, a.right - a.left, a.bottom - a.top);
    ctx.lineWidth = 1.2;
    ctx.beginPath();
    (o.yMarks || []).forEach(v => {
      const y = scales.y.getPixelForValue(v);
      ctx.moveTo(a.left, y); ctx.lineTo(a.left + 6, y);
      ctx.moveTo(a.right, y); ctx.lineTo(a.right - 6, y);
    });
    (o.xMarks || []).forEach(v => {
      const x = scales.x.getPixelForValue(v);
      ctx.moveTo(x, a.top); ctx.lineTo(x, a.top + 6);
      ctx.moveTo(x, a.bottom); ctx.lineTo(x, a.bottom - 6);
    });
    ctx.stroke();
    if (o.arrowText) {
      const ax = scales.x.getPixelForValue(o.arrowVel);
      const ay = a.top + 7;
      const by = scales.y.getPixelForValue(o.arrowBase);
      ctx.strokeStyle = BLUE;
      ctx.lineWidth = 3;
      ctx.setLineDash([8, 5]);
      ctx.beginPath(); ctx.moveTo(ax, ay + 2); ctx.lineTo(ax, by - 2); ctx.stroke();
      ctx.setLineDash([]);
      ctx.lineWidth = 2.4;
      ctx.beginPath();
      ctx.moveTo(ax - 5, ay + 8); ctx.lineTo(ax, ay); ctx.lineTo(ax + 5, ay + 8);
      ctx.moveTo(ax - 5, by - 8); ctx.lineTo(ax, by); ctx.lineTo(ax + 5, by - 8);
      ctx.stroke();
      ctx.fillStyle = BLUE;
      ctx.font = '22px "Liberation Serif"';
      ctx.textAlign = 'left';
      ctx.textBaseline = 'middle';
      ctx.fillText(o.arrowText, ax + 7, (ay + by) / 2);
    }
    ctx.restore();
  }
};

function addCanvas(left, top, w, h) {
  const c = document.createElement('canvas');
  c.width = w; c.height = h;
  c.style.left = left + 'px'; c.style.top = top + 'px';
  c.style.width = w + 'px'; c.style.height = h + 'px';
  document.body.appendChild(c);
  return c;
}

function xScale(show) {
  const s = {
    type: 'linear', min: -86, max: 36, reverse: true, display: show,
    afterBuildTicks: ax => { ax.ticks = xTicks.map(v => ({value: v})); },
    grid: {display: false, drawTicks: false},
    border: {display: false},
    ticks: {font: tickFont, color: '#000', padding: 6, maxRotation: 0, autoSkip: false}
  };
  if (show) {
    s.afterFit = ax => { ax.height = XH; };
    s.title = {display: true, text: xTitle, font: tickFont, color: '#000', padding: {top: 0, bottom: 2}};
  }
  return s;
}

frames.forEach((f, i) => {
  // phase frame
  const ph = phaseSeries[i], phB = phaseSeriesB[i];
  const pts = velocity.map((v, k) => ({x: v, y: ph[k]}))
    .concat(velocityHalf.map((v, k) => ({x: v, y: phB[k]})))
    .filter(p => p.y !== undefined);
  const hp = f.mid - f.top;
  const c1 = addCanvas(f.x - YW, f.top - PAD, YW + f.w + RPAD, hp + 2 * PAD);
  new Chart(c1, {
    type: 'scatter',
    data: {datasets: [{
      data: pts,
      pointStyle: 'cross', pointRadius: 4, pointBorderWidth: 1.35,
      borderColor: '#000', backgroundColor: '#000'
    }]},
    options: {
      animation: false, responsive: false, events: [],
      layout: {padding: {top: PAD, bottom: PAD, left: 0, right: RPAD}},
      plugins: {legend: {display: false}, tooltip: {enabled: false}, frame: {}},
      scales: {
        x: xScale(false),
        y: {
          min: -200, max: 200,
          afterBuildTicks: ax => { ax.ticks = phaseTicks.map(v => ({value: v})); },
          afterFit: ax => { ax.width = YW; },
          grid: {display: false, drawTicks: false}, border: {display: false},
          ticks: {font: tickFont, color: '#000', padding: 3, callback: v => String(v)}
        }
      }
    },
    plugins: [framePlugin]
  });

  // amplitude frame
  const am = ampSeries[i];
  const ha = f.bottom - f.mid;
  const c2 = addCanvas(f.x - YW, f.mid - PAD, YW + f.w + RPAD, PAD + ha + (f.axis ? XH : PAD));
  const dec = ampDecimals[i];
  new Chart(c2, {
    type: 'line',
    data: {datasets: [{
      data: velocity.map((v, k) => ({x: v, y: am[k]})).filter(p => p.y !== undefined),
      borderColor: '#111', borderWidth: 1.2, pointRadius: 0, tension: 0, fill: false
    }]},
    options: {
      animation: false, responsive: false, events: [],
      layout: {padding: {top: PAD, bottom: f.axis ? 0 : PAD, left: 0, right: RPAD}},
      plugins: {
        legend: {display: false}, tooltip: {enabled: false},
        frame: {
          name: baselineNames[i], pair: pairLabels[i],
          yMarks: ampTicks[i].concat(ampMinor[i]), xMarks: xTicks,
          arrowVel: arrowVel[i], arrowBase: arrowBase[i], arrowText: arrowText[i]
        }
      },
      scales: {
        x: xScale(!!f.axis),
        y: {
          min: ampMin[i], max: ampMax[i],
          afterBuildTicks: ax => { ax.ticks = ampTicks[i].map(v => ({value: v})); },
          afterFit: ax => { ax.width = YW; },
          grid: {display: false, drawTicks: false}, border: {display: false},
          ticks: {font: tickFont, color: '#000', padding: 3, callback: v => Number(v).toFixed(dec)}
        }
      }
    },
    plugins: [framePlugin]
  });
});

captions.forEach(c => {
  const d = document.createElement('div');
  d.className = 'cap';
  d.style.left = c.x + 'px'; d.style.top = c.y + 'px';
  d.textContent = c.t;
  document.body.appendChild(d);
});

const nt = document.createElement('div');
nt.className = 'note';
nt.style.left = '493px'; nt.style.top = '1415px';
nt.textContent = noteTitle;
document.body.appendChild(nt);
noteLines.forEach((t, k) => {
  const d = document.createElement('div');
  d.className = 'note';
  d.style.left = '543px'; d.style.top = (1448.5 + k * 33.3) + 'px';
  d.textContent = t;
  document.body.appendChild(d);
});
</script>
</body>
</html>
